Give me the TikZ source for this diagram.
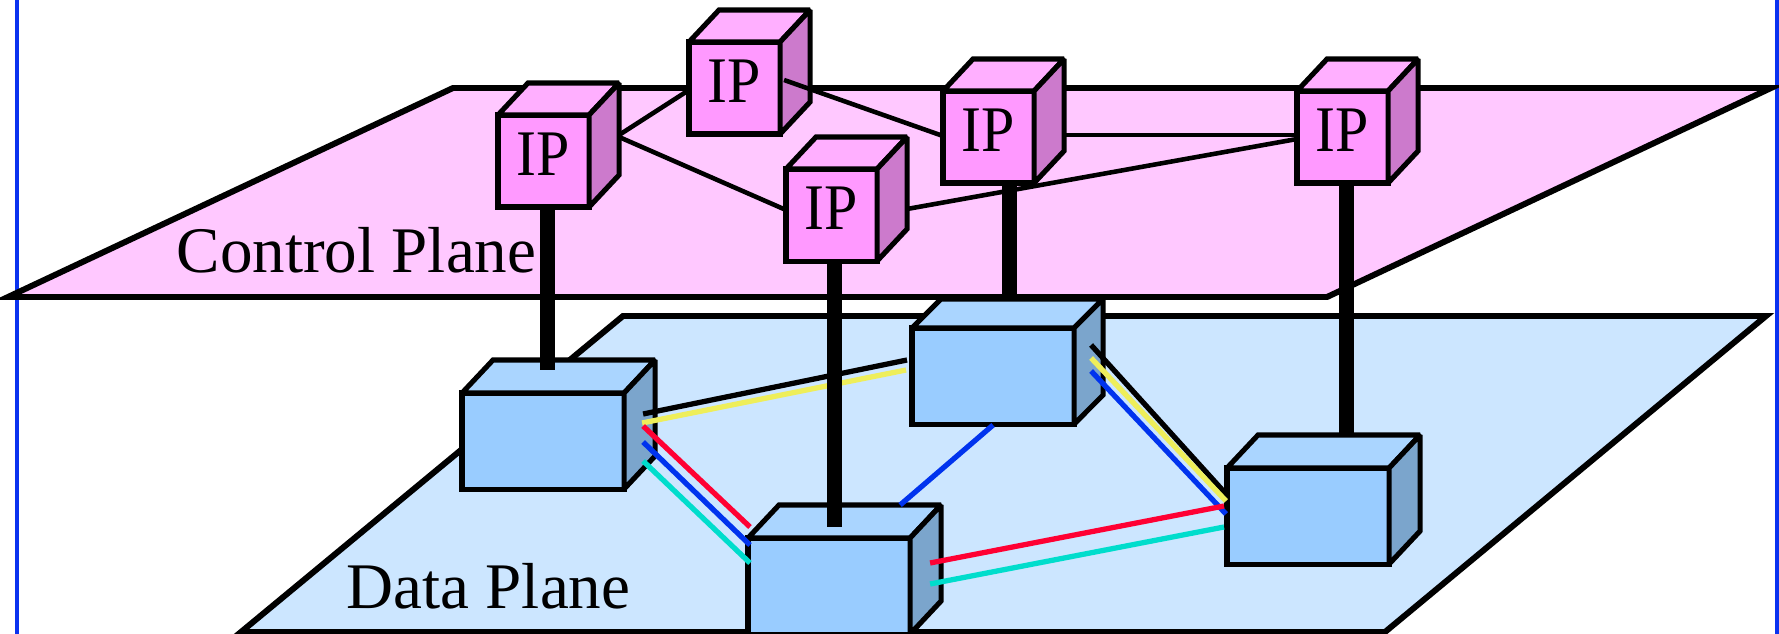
\documentclass[tikz,border=0pt]{standalone}
\usepackage{fontspec}
\setmainfont{Liberation Serif}
\usetikzlibrary{calc}
\definecolor{planepink}{RGB}{255,200,255}
\definecolor{planeblue}{RGB}{204,230,255}
\definecolor{ipfrontc}{RGB}{255,153,255}
\definecolor{iptopc}{RGB}{255,175,255}
\definecolor{ipsidec}{RGB}{204,122,204}
\definecolor{dfrontc}{RGB}{153,204,255}
\definecolor{dtopc}{RGB}{170,213,255}
\definecolor{dsidec}{RGB}{123,165,204}
\definecolor{framec}{RGB}{10,50,240}
\definecolor{lred}{RGB}{255,0,51}
\definecolor{lblue}{RGB}{0,51,238}
\definecolor{lcyan}{RGB}{0,221,204}
\definecolor{lyellow}{RGB}{238,238,90}
\newcommand{\ipcube}[4]{%
  \node[ipbox] (#1) at (#2,#3) {#4};
  \draw[cubeline,fill=iptopc] (#1.north west) -- ++(30,-32) -- ++(91,0) -- (#1.north east) -- cycle;
  \draw[cubeline,fill=ipsidec] (#1.north east) -- ++(30,-32) -- ++(0,92) -- (#1.south east) -- cycle;
}
\newcommand{\dcube}[5]{%
  \node[dbox] (#1) at (#2,#3) {};
  \draw[cubeline,fill=dtopc] (#1.north west) -- ++(#4,#5) -- ++(162,0) -- (#1.north east) -- cycle;
  \draw[cubeline,fill=dsidec] (#1.north east) -- ++(#4,#5) -- ++(0,96) -- (#1.south east) -- cycle;
}
\begin{document}
\begin{tikzpicture}[x=0.01cm,y=-0.01cm,
  plane/.style={draw=black,line width=1.7pt,line join=miter},
  cubeline/.style={draw=black,line width=1.45pt,line join=miter,miter limit=2},
  ipbox/.style={cubeline,fill=ipfrontc,minimum width=0.91cm,minimum height=0.92cm,inner sep=0pt,outer sep=0pt,anchor=north west,font=\fontsize{18.5}{20}\selectfont},
  dbox/.style={cubeline,fill=dfrontc,minimum width=1.62cm,minimum height=0.96cm,inner sep=0pt,outer sep=0pt,anchor=north west},
  iplink/.style={draw=black,line width=1.3pt},
  dlink/.style={line width=1.5pt},
  stalk/.style={draw=black,line width=4.3pt},
  lbl/.style={font=\fontsize{18.5}{20}\selectfont,anchor=base west,inner sep=0pt}
]
\useasboundingbox (0,0) rectangle (1779,634);
\fill[white] (0,0) rectangle (1779,634);
% frame lines
\draw[framec,line width=1pt] (17,0) -- (17,634);
\draw[framec,line width=1pt] (1777,0) -- (1777,634);
% planes
\draw[plane,fill=planepink] (453,88) -- (1771,88) -- (1327,297) -- (8,297) -- cycle;
\draw[plane,fill=planeblue] (623,316) -- (1766,316) -- (1385,632) -- (241,632) -- cycle;
\node[lbl] (cplabel) at (176,273) {Control Plane};
\node[lbl] (dplabel) at (346,608) {Data Plane};
% IP cubes
\ipcube{ip1}{498}{115}{\raisebox{4pt}{\scalebox{0.92}[1]{IP}}}
\ipcube{ip2}{689}{42}{\raisebox{4pt}{\scalebox{0.92}[1]{IP}}}
\ipcube{ip3}{786}{169}{\raisebox{4pt}{\scalebox{0.92}[1]{IP}}}
\ipcube{ip4}{943}{91}{\raisebox{4pt}{\scalebox{0.92}[1]{IP}}}
\ipcube{ip5}{1297}{91}{\raisebox{4pt}{\scalebox{0.92}[1]{IP}}}
% control links
\draw[iplink] ([shift={(30,20)}]ip1.north east) -- ([shift={(0,48)}]ip2.north west);
\draw[iplink] ([shift={(30,22)}]ip1.north east) -- ([shift={(0,41)}]ip3.north west);
\draw[iplink] ([shift={(4,38)}]ip2.north east) -- ([shift={(0,45)}]ip4.north west);
\draw[iplink] ([shift={(30,44)}]ip4.north east) -- ([shift={(0,44)}]ip5.north west);
\draw[iplink] ([shift={(30,40)}]ip3.north east) -- ([shift={(0,48)}]ip5.north west);
% data cubes
\dcube{d1}{462}{393}{31}{-33}
\dcube{d2}{748}{538}{31}{-33}
\dcube{d3}{912}{328}{29}{-29}
\dcube{d4}{1227}{468}{31}{-33}
% data links
\draw[dlink,black] ([shift={(19,21)}]d1.north east) -- ([shift={(-5,32)}]d3.north west);
\draw[dlink,lyellow] ([shift={(18,30)}]d1.north east) -- ([shift={(-6,42)}]d3.north west);
\draw[dlink,lred] ([shift={(19,33)}]d1.north east) -- ([shift={(2,-11)}]d2.north west);
\draw[dlink,lblue] ([shift={(19,49)}]d1.north east) -- ([shift={(2,7)}]d2.north west);
\draw[dlink,lcyan] ([shift={(19,68)}]d1.north east) -- ([shift={(2,25)}]d2.north west);
\draw[dlink,lblue] ([shift={(0,1)}]d3.south) -- ([shift={(-10,-33)}]d2.north east);
\draw[dlink,black] ([shift={(17,17)}]d3.north east) -- ([shift={(-1,26)}]d4.north west);
\draw[dlink,lyellow] ([shift={(17,30)}]d3.north east) -- ([shift={(-1,33)}]d4.north west);
\draw[dlink,lblue] ([shift={(17,43)}]d3.north east) -- ([shift={(-1,46)}]d4.north west);
\draw[dlink,lred] ([shift={(20,25)}]d2.north east) -- ([shift={(-3,38)}]d4.north west);
\draw[dlink,lcyan] ([shift={(20,46)}]d2.north east) -- ([shift={(-3,59)}]d4.north west);
% stalks
\coordinate (s1a) at ([shift={(4,0)}]ip1.south);
\coordinate (s1b) at (s1a |- d1.north);
\coordinate (s2a) at ([shift={(3,0)}]ip3.south);
\coordinate (s2b) at (s2a |- d2.north);
\coordinate (s3a) at ([shift={(21,0)}]ip4.south);
\coordinate (s3b) at (s3a |- d3.north);
\coordinate (s4a) at ([shift={(4,0)}]ip5.south);
\coordinate (s4b) at (s4a |- d4.north);
\draw[stalk] (s1a) -- ([shift={(0,-23)}]s1b);
\draw[stalk] (s2a) -- ([shift={(0,-11)}]s2b);
\draw[stalk] (s3a) -- ([shift={(0,-28)}]s3b);
\draw[stalk] (s4a) -- ([shift={(0,-33)}]s4b);
\end{tikzpicture}
\end{document}
